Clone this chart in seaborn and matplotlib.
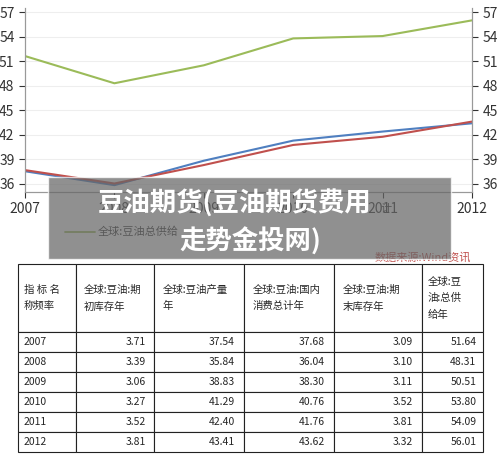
import matplotlib
matplotlib.use("Agg")
import matplotlib.pyplot as plt
import seaborn as sns
import pandas as pd
from matplotlib.patches import Rectangle

sns.set_style("white")
plt.rcParams['font.family'] = ['Noto Sans CJK SC', 'DejaVu Sans']

years = [2007, 2008, 2009, 2010, 2011, 2012]
opening = [3.71, 3.39, 3.06, 3.27, 3.52, 3.81]
production = [37.54, 35.84, 38.83, 41.29, 42.40, 43.41]
consumption = [37.68, 36.04, 38.30, 40.76, 41.76, 43.62]
ending = [3.09, 3.10, 3.11, 3.52, 3.81, 3.32]
supply = [51.64, 48.31, 50.51, 53.80, 54.09, 56.01]

headers = ["指 标 名\n称频率", "全球:豆油:期\n初库存年", "全球:豆油产量\n年", "全球:豆油:国内\n消费总计年", "全球:豆油:期\n末库存年", "全球:豆\n油:总供\n给年"]

df = pd.DataFrame({"year": years * 3,
                   "value": production + consumption + supply,
                   "series": ["全球:豆油产量"] * 6 + ["全球:豆油:国内消费总计"] * 6 + ["全球:豆油:总供给"] * 6})

fig = plt.figure(figsize=(5, 4.55), dpi=100)
ax = fig.add_axes([0.05, 0.578, 0.894, 0.404])
sns.lineplot(data=df, x="year", y="value", hue="series", ax=ax,
             palette=["#4f7fc0", "#c0504d", "#9bbb59"], linewidth=1.5, legend=False)
ax.set_xlim(2007, 2012)
ax.set_ylim(35, 57.5)
ticks = [36, 39, 42, 45, 48, 51, 54, 57]
ax.set_yticks(ticks)
ax.set_xticks(years)
ax.set_xlabel(""); ax.set_ylabel("")
ax.grid(axis="y", color="#eeeeee", lw=0.8)
ax.tick_params(labelsize=10, colors="#333333", length=4, direction="out", left=True, bottom=True)
ax2 = ax.twinx()
ax2.set_ylim(ax.get_ylim()); ax2.set_yticks(ticks)
ax2.tick_params(labelsize=10, colors="#333333", length=4, direction="out", right=True)
for a in (ax, ax2):
    for s in a.spines.values():
        s.set_color("#999999")
    a.spines["top"].set_visible(False)

fig.lines.append(plt.Line2D([0.13, 0.19], [0.49, 0.49], color="#9bbb59", lw=1.3, transform=fig.transFigure))
fig.text(0.195, 0.49, "全球:豆油总供给", fontsize=8, va="center", color="#333333")
fig.text(0.76, 0.54, "计", fontsize=8, va="center", color="#333333")
fig.text(0.75, 0.435, "数据来源:Wind资讯", fontsize=8, va="center", color="#c0504d", style="italic")

fig.patches.append(Rectangle((0.096, 0.43), 0.806, 0.18, transform=fig.transFigure,
                             facecolor="#666666", alpha=0.72, zorder=5))
fig.text(0.47, 0.552, "豆油期货(豆油期货费用", fontsize=19, weight="bold", color="white", ha="center", va="center", zorder=6)
fig.text(0.5, 0.468, "走势金投网)", fontsize=19, weight="bold", color="white", ha="center", va="center", zorder=6)

tax = fig.add_axes([0.036, 0.007, 0.948, 0.412])
tax.axis("off")
rows = [[f"{y}", f"{a:.2f}", f"{b:.2f}", f"{c:.2f}", f"{d:.2f}", f"{e:.2f}"]
        for y, a, b, c, d, e in zip(years, opening, production, consumption, ending, supply)]
widths = [0.118, 0.16, 0.185, 0.185, 0.18, 0.125]
tbl = tax.table(cellText=rows, colLabels=headers, colWidths=widths, bbox=[0, 0, 0.98, 1], cellLoc="left")
tbl.auto_set_font_size(False)
tbl.set_fontsize(7.5)
n = len(rows)
for (r, c), cell in tbl.get_celld().items():
    cell.set_edgecolor("#222222"); cell.set_linewidth(0.8)
    t = cell.get_text()
    if r == 0:
        cell.set_height(0.36)
        t.set_ha("left"); cell._loc = "left"
        t.set_linespacing(1.8)
    else:
        cell.set_height(0.64 / n)
        if c > 0:
            t.set_ha("right"); cell._loc = "right"
        else:
            t.set_ha("left"); cell._loc = "left"
plt.savefig("out.png", dpi=100)
